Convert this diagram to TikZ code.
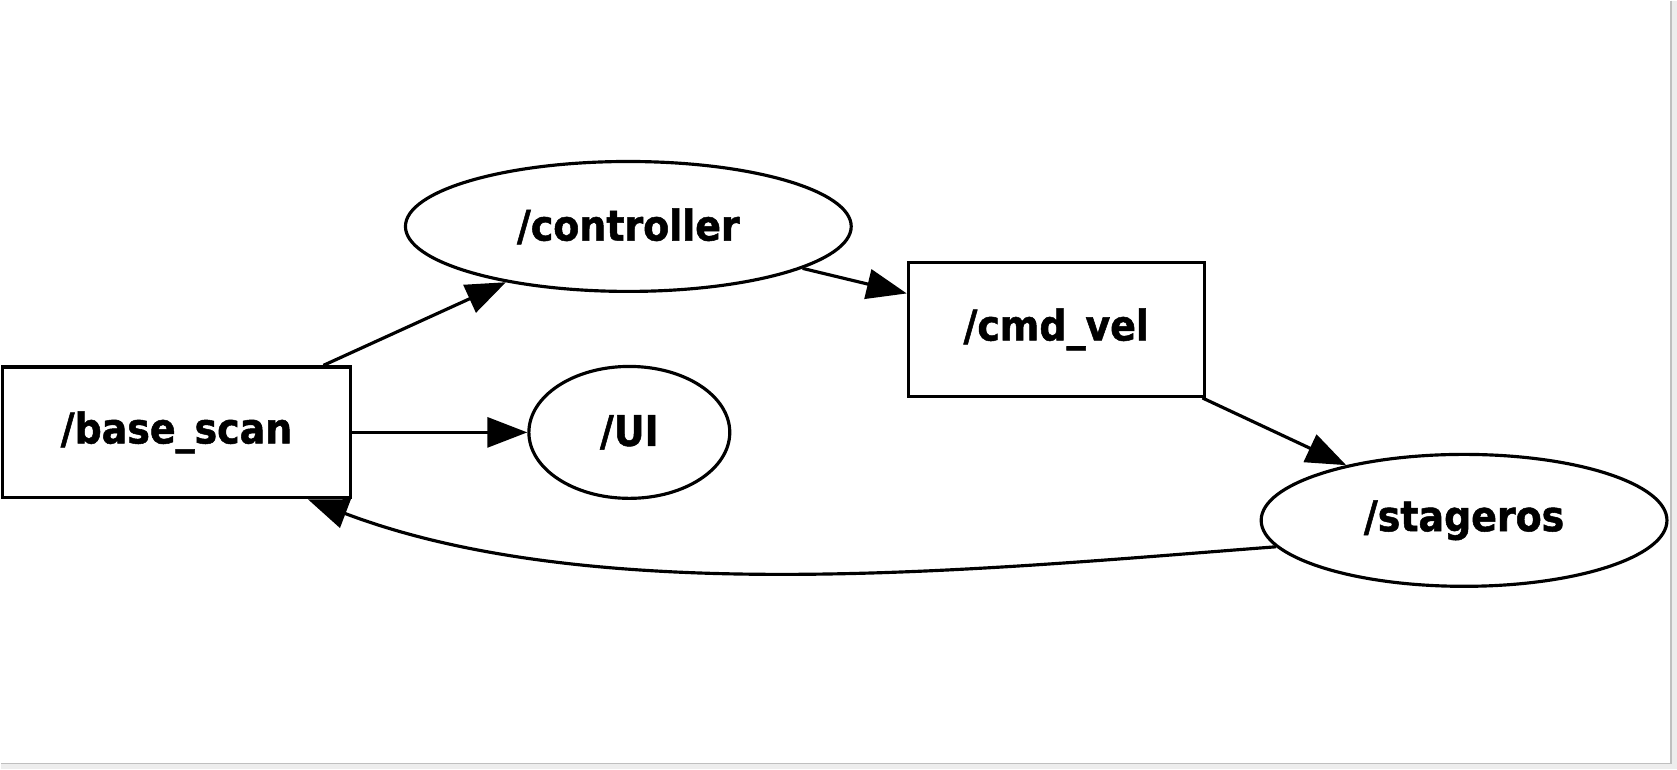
\documentclass[tikz,border=0pt]{standalone}
\usepackage{fontspec}
\setmainfont{DejaVu Sans Condensed}[BoldFeatures={FakeBold=1.2}]
\usetikzlibrary{shapes.geometric,arrows.meta}

\begin{document}
\begin{tikzpicture}[x=0.02cm, y=-0.02cm,
  every node/.style={font=\fontsize{24}{28}\selectfont\bfseries, line width=1.8pt, inner sep=0pt},
  topic/.style={draw, rectangle},
  proc/.style={draw, ellipse},
  edge/.style={line width=1.8pt, -{Triangle[length=0.8cm,width=0.6cm]}}]
% screenshot frame
\fill[black!7] (0,0) rectangle (1677,769);
\fill[white] (0,0) rectangle (1671,763);
\draw[black!25, line width=0.6pt] (1671,0) -- (1671,763) -- (0,763);
\useasboundingbox (0,0) rectangle (1677,769);
\node[topic, minimum width=6.96cm, minimum height=2.62cm] (bs) at (176,432) {/base\_scan};
\node[proc, minimum width=8.92cm, minimum height=2.6cm] (ctrl) at (628,226) {/controller};
\node[proc, minimum width=4.02cm, minimum height=2.64cm] (ui) at (629,432) {/UI};
\node[topic, minimum width=5.92cm, minimum height=2.68cm] (cmd) at (1056,329) {/cmd\_vel};
\node[proc, minimum width=8.12cm, minimum height=2.64cm] (st) at (1464,520) {/stageros};
\draw[edge] (bs) -- (ctrl);
\draw[edge] (bs) -- (ui);
\draw[edge] (ctrl) -- (cmd);
\draw[edge] (cmd) -- (st);
\draw[edge] (st.188) .. controls +(-290,22) and +(290,110) .. (bs.-27);
\end{tikzpicture}
\end{document}
